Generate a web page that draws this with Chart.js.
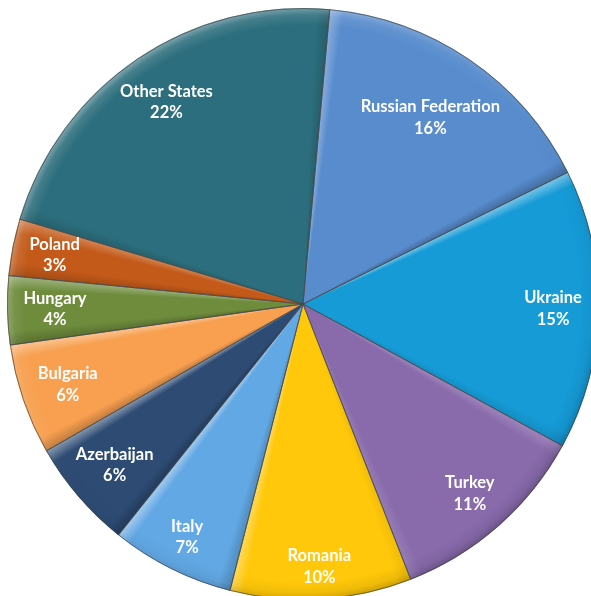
<!DOCTYPE html>
<html><head><meta charset="utf-8">
<script src="https://cdn.jsdelivr.net/npm/chart.js@4.4.1/dist/chart.umd.min.js"></script>
<style>
html,body{margin:0;padding:0;background:#fff;overflow:hidden;width:591px;height:596px;}
#wrap{position:absolute;left:0;top:0;width:606px;height:608px;}
canvas{display:block;}
</style></head><body>
<div id="wrap"><canvas id="c" width="606" height="608" style="width:606px;height:608px"></canvas></div>
<script>
// ---- data ----
const categories = ['Russian Federation','Ukraine','Turkey','Romania','Italy','Azerbaijan','Bulgaria','Hungary','Poland','Other States'];
const shares = [16.2, 15.3, 11.1, 9.9, 6.75, 6.0, 6.05, 3.75, 3.1, 21.8];
// ---- styling ----
const sliceColors = ['#588CCD','#169BD7','#896BAC','#FFC80A','#62A8E4','#2D4B73','#F8A050','#6E8C3C','#C35A19','#2C6E7D'];
const labelRadius = [0.762,0.845,0.853,0.889,0.879,0.838,0.84,0.838,0.855,0.824];

const total = shares.reduce((a,b)=>a+b,0);
const LIGHT = {x:-0.6, y:-0.8};
function edgeColor(d, a){
  return d>=0 ? 'rgba(255,255,255,'+(0.42*d*a).toFixed(3)+')' : 'rgba(0,0,0,'+(0.22*-d*a).toFixed(3)+')';
}

const bevel = {
  id:'bevel',
  afterDatasetDraw(chart, args){
    const ctx = chart.ctx;
    const arcs = chart.getDatasetMeta(args.index).data;
    if(!arcs.length) return;
    const p0 = arcs[0].getProps(['x','y','outerRadius'], true);
    const cx=p0.x, cy=p0.y, R=p0.outerRadius;
    const DELTA = 14/R, T = 2*Math.PI;
    arcs.forEach(arc=>{
      const p = arc.getProps(['startAngle','endAngle'], true);
      const sa=p.startAngle, ea=p.endAngle, span=ea-sa;
      ctx.save();
      ctx.beginPath(); ctx.moveTo(cx,cy); ctx.arc(cx,cy,R,sa,ea); ctx.closePath(); ctx.clip();
      const dS = Math.sin(sa)*LIGHT.x - Math.cos(sa)*LIGHT.y;
      const dE = -Math.sin(ea)*LIGHT.x + Math.cos(ea)*LIGHT.y;
      const g = ctx.createConicGradient(sa, cx, cy);
      const half = span/T/2;
      g.addColorStop(0, edgeColor(dS,1));
      g.addColorStop(Math.min(DELTA/T, half), edgeColor(dS,0));
      g.addColorStop(Math.max(span/T-DELTA/T, half), edgeColor(dE,0));
      g.addColorStop(Math.min(span/T,1), edgeColor(dE,1));
      if (span/T < 1) g.addColorStop(1, 'rgba(0,0,0,0)');
      ctx.fillStyle = g;
      ctx.fillRect(0,0,chart.width,chart.height);
      ctx.restore();
    });
    const off = document.createElement('canvas');
    off.width = chart.canvas.width; off.height = chart.canvas.height;
    const o = off.getContext('2d');
    const W = 18;
    const cg = o.createConicGradient(0, cx, cy);
    for(let k=0;k<=36;k++){
      const th = k/36*T;
      const d = Math.cos(th)*LIGHT.x + Math.sin(th)*LIGHT.y;
      cg.addColorStop(k/36, edgeColor(d,1));
    }
    o.fillStyle = cg;
    o.beginPath(); o.arc(cx,cy,R,0,T); o.arc(cx,cy,R-W,0,T,true); o.fill();
    o.globalCompositeOperation = 'destination-in';
    const rg = o.createRadialGradient(cx,cy,R-W,cx,cy,R);
    rg.addColorStop(0,'rgba(0,0,0,0)');
    rg.addColorStop(0.6,'rgba(0,0,0,0.3)');
    rg.addColorStop(1,'rgba(0,0,0,1)');
    o.fillStyle = rg; o.fillRect(0,0,off.width,off.height);
    ctx.drawImage(off,0,0,chart.width,chart.height);
    ctx.save();
    ctx.strokeStyle = 'rgba(70,70,70,0.7)';
    ctx.lineWidth = 1;
    arcs.forEach(arc=>{
      const p = arc.getProps(['startAngle','endAngle'], true);
      ctx.beginPath(); ctx.moveTo(cx,cy); ctx.arc(cx,cy,R-0.5,p.startAngle,p.endAngle); ctx.closePath(); ctx.stroke();
    });
    ctx.restore();
  }
};

const sliceLabels = {
  id:'sliceLabels',
  afterDatasetsDraw(chart){
    const ctx = chart.ctx;
    chart.getDatasetMeta(0).data.forEach((arc,i)=>{
      const p = arc.getProps(['x','y','startAngle','endAngle','outerRadius'], true);
      const a = (p.startAngle+p.endAngle)/2;
      const rr = p.outerRadius*labelRadius[i];
      const lx = p.x + Math.cos(a)*rr, ly = p.y + Math.sin(a)*rr;
      ctx.save();
      ctx.fillStyle = '#fff';
      ctx.font = 'bold 16.5px Lato';
      ctx.textAlign = 'center'; ctx.textBaseline = 'middle';
      ctx.fillText(categories[i], lx, ly-10.75);
      ctx.fillText(Math.round(shares[i]/total*100)+'%', lx, ly+10.75);
      ctx.restore();
    });
  }
};

new Chart(document.getElementById('c'), {
  type:'pie',
  data:{labels:categories, datasets:[{data:shares, backgroundColor:sliceColors, borderWidth:0}]},
  options:{
    responsive:false, animation:false, rotation:5.2,
    layout:{padding:{left:7,right:7,top:8,bottom:8}},
    plugins:{legend:{display:false}, tooltip:{enabled:false}},
    events:[]
  },
  plugins:[bevel, sliceLabels]
});
</script>
</body></html>
